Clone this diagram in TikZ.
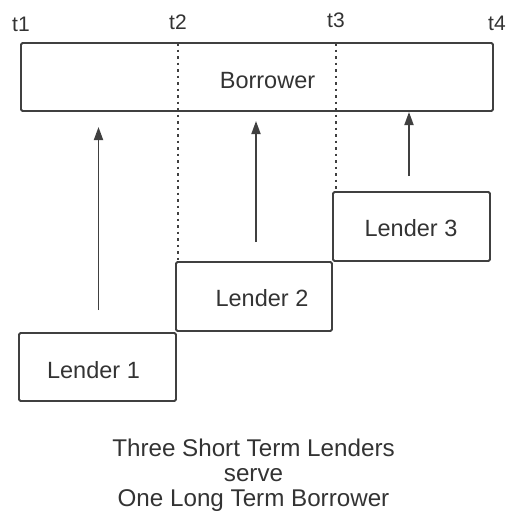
\documentclass[tikz,border=0pt]{standalone}
\usepackage{fontspec}
\setmainfont{Liberation Sans}
\usetikzlibrary{arrows.meta}
\definecolor{inkline}{HTML}{404040}
\definecolor{inktext}{HTML}{333333}
\begin{document}
\begin{tikzpicture}[x=1pt,y=-1pt,
  frame/.style={draw=inkline,line width=1.8pt,rounded corners=1.5pt},
  label/.style={text=inktext,font=\fontsize{23.5}{25}\selectfont,inner sep=0pt},
  tick/.style={text=inktext,font=\fontsize{21}{23}\selectfont,inner sep=0pt,anchor=base west},
  marker/.style={draw=inkline,line width=1.5pt,dash pattern=on 2.5pt off 4pt},
  lendarrow/.style={draw=inkline,line width=1.8pt,-{Triangle[length=13pt,width=9pt]}}]
\useasboundingbox (0,0) rectangle (510,512);

% the borrower's time line
\draw[frame] (21,43) rectangle (493,111);
\coordinate (bt2) at (178,43);
\coordinate (bt3) at (336,43);
\node[label,anchor=base] (borrower) at (267.5,88) {Borrower};

% time marks
\node[tick] (t1) at (12,31) {t1};
\node[tick] (t2) at (169,29) {t2};
\node[tick] (t3) at (327,27) {t3};
\node[tick] (t4) at (488,30) {t4};

% lenders, one per period
\draw[frame] (19,333) rectangle (176,401);
\draw[frame] (176,262) rectangle (332,331);
\draw[frame] (333,192) rectangle (490,261);
\node[label,anchor=base] (l1) at (93.5,378) {Lender 1};
\node[label,anchor=base] (l2) at (262,306) {Lender 2};
\node[label,anchor=base] (l3) at (411,236) {Lender 3};

% period boundaries
\coordinate (l2top) at (178,262);
\coordinate (l3top) at (336,192);
\draw[marker] (bt2) -- (l2top);
\draw[marker] (bt3) -- (l3top);

% funding arrows
\coordinate (a1s) at (98.5,310);
\coordinate (a1e) at (98.5,127);
\coordinate (a2s) at (256,242);
\coordinate (a2e) at (256,121);
\coordinate (a3s) at (409,176);
\coordinate (a3e) at (409,112);
\draw[lendarrow] (a1s) -- (a1e);
\draw[lendarrow] (a2s) -- (a2e);
\draw[lendarrow] (a3s) -- (a3e);

% caption (anchored on the baseline of its last line)
\node[label,align=center,anchor=base,font=\fontsize{24.2}{24.6}\selectfont] (caption) at (253.5,506)
  {Three Short Term Lenders\\serve\\One Long Term Borrower};
\end{tikzpicture}
\end{document}
